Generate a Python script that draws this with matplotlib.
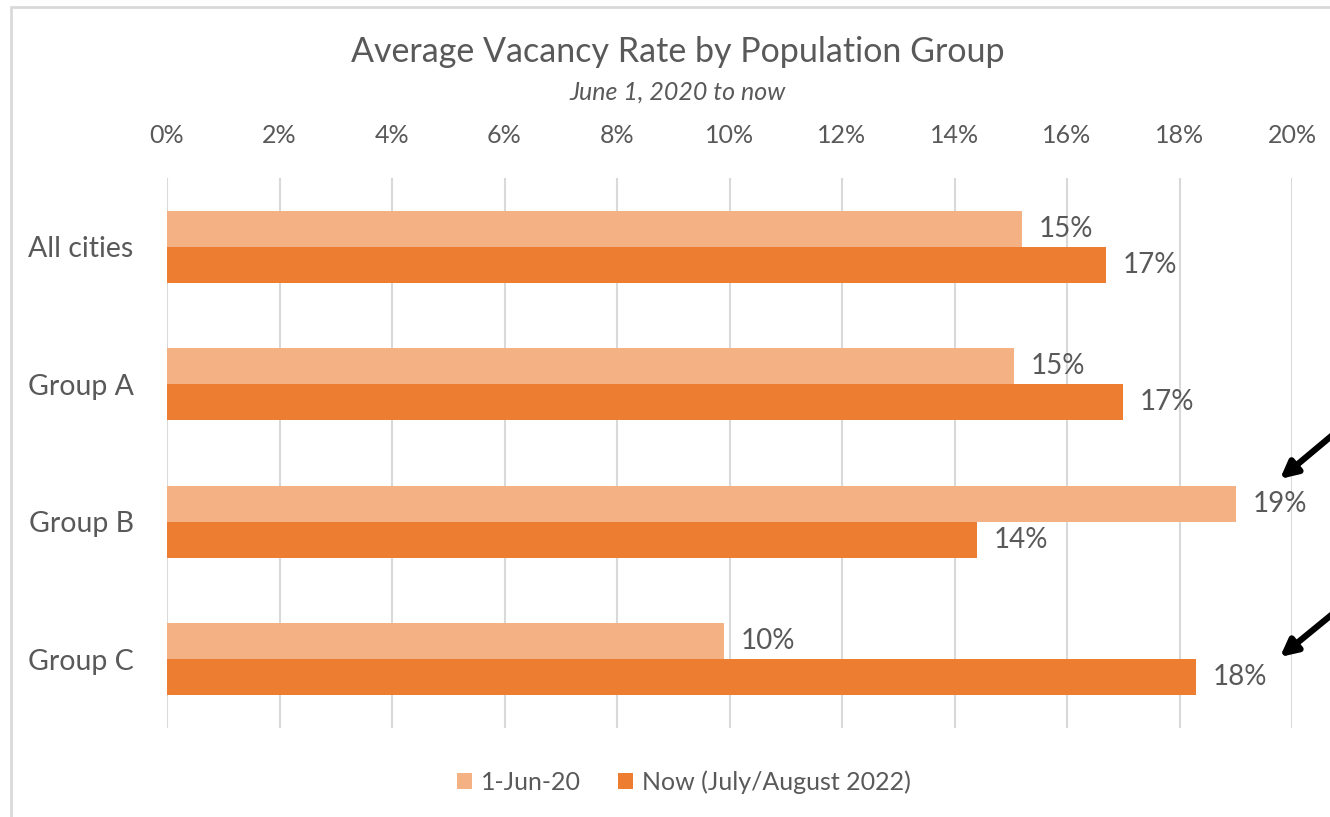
import numpy as np
import matplotlib
matplotlib.use("Agg")
import matplotlib.pyplot as plt
from matplotlib.patches import Rectangle

categories = ["All cities", "Group A", "Group B", "Group C"]
jun_2020 = [15.2, 15.05, 19.0, 9.9]
now_2022 = [16.7, 17.0, 14.4, 18.3]
series_names = ["1-Jun-20", "Now (July/August 2022)"]
xticks = [0, 2, 4, 6, 8, 10, 12, 14, 16, 18, 20]

LIGHT = "#f4b183"
DARK = "#ed7d31"
TEXT = "#595959"
GRID = "#d9d9d9"

plt.rcParams["font.family"] = ["Lato", "DejaVu Sans"]

W, H = 1330, 817
fig = plt.figure(figsize=(W / 100, H / 100), dpi=100)
ax = fig.add_axes([167 / W, 1 - 728 / H, (1292 - 167) / W, (728 - 178) / H])

y = np.arange(len(categories))
bh = 0.262
b1 = ax.barh(y - bh / 2, jun_2020, height=bh, color=LIGHT, label=series_names[0])
b2 = ax.barh(y + bh / 2, now_2022, height=bh, color=DARK, label=series_names[1])

for bars, vals in ((b1, jun_2020), (b2, now_2022)):
    for rect, v in zip(bars, vals):
        ax.annotate(f"{round(v):.0f}%", (v, rect.get_y() + rect.get_height() / 2),
                    xytext=(12, 0), textcoords="offset points",
                    ha="left", va="center", fontsize=20, color=TEXT)

ax.set_xlim(0, 20)
ax.set_ylim(3.5, -0.5)
ax.set_xticks(xticks)
ax.set_xticklabels([f"{t}%" for t in xticks])
ax.set_yticks(y)
ax.set_yticklabels(categories)
ax.xaxis.tick_top()
ax.tick_params(axis="x", length=0, pad=22, labelsize=18, labelcolor=TEXT)
ax.tick_params(axis="y", length=0, pad=24, labelsize=20.5, labelcolor=TEXT)
ax.grid(axis="x", color=GRID, linewidth=1.5)
ax.set_axisbelow(True)
for s in ax.spines.values():
    s.set_visible(False)

fig.text(678 / W, 1 - 52 / H, "Average Vacancy Rate by Population Group",
         ha="center", va="center", fontsize=24.5, color=TEXT)
fig.text(678 / W, 1 - 92 / H, "June 1, 2020 to now", ha="center", va="center",
         fontsize=18, style="italic", color=TEXT)

fig.legend(handles=[b1, b2], loc="center", bbox_to_anchor=(684 / W, 1 - 782 / H),
           ncol=2, frameon=False, fontsize=18, labelcolor=TEXT,
           handlelength=0.6, handleheight=0.6, handletextpad=0.35, columnspacing=1.5)

# chart area border
fig.patches.append(Rectangle((11 / W, -0.1), 1.2, 1 - 7 / H + 0.1, transform=fig.transFigure,
                             fill=False, edgecolor=GRID, linewidth=2))

# arrows pointing at the labels
for tip_x, tip_y, tail_y in ((1280, 479, 438), (1280, 657, 617)):
    ax.annotate("", xy=(tip_x / W, 1 - tip_y / H), xycoords="figure fraction",
                xytext=(1335 / W, 1 - (tail_y - 5) / H), textcoords="figure fraction",
                arrowprops=dict(arrowstyle="-|>,head_length=1.0,head_width=0.5",
                                color="black", lw=4.5, shrinkA=0, shrinkB=0),
                annotation_clip=False)

fig.savefig("out.png", dpi=100)
